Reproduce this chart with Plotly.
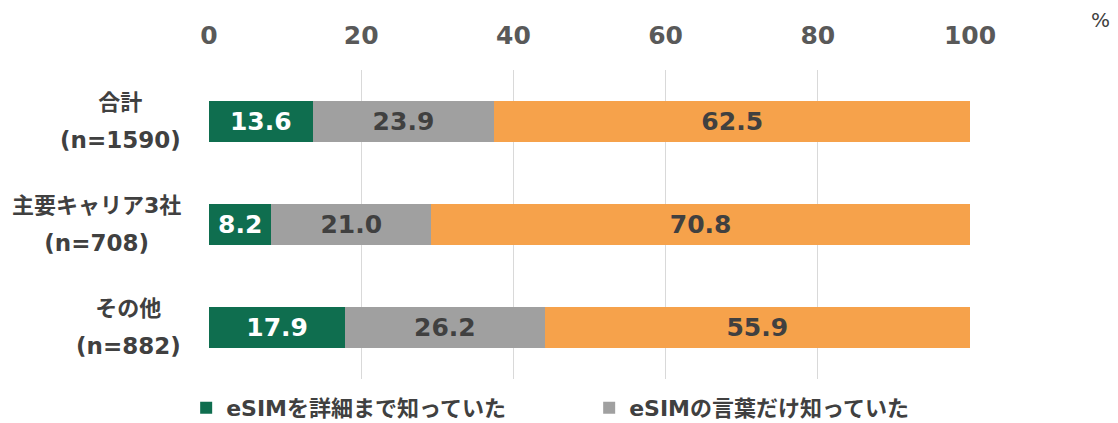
import plotly.graph_objects as go

categories = ["合計", "主要キャリア3社", "その他"]
cat_names = ["合計", "主要キャリア3社", "その他"]
cat_n = ["(n=1590)", "(n=708)", "(n=882)"]
series_names = ["eSIMを詳細まで知っていた", "eSIMの言葉だけ知っていた", "eSIMを知らなかった"]
detail = [13.6, 8.2, 17.9]
word_only = [23.9, 21.0, 26.2]
unknown = [62.5, 70.8, 55.9]
tick_vals = [0, 20, 40, 60, 80, 100]

FONT = "DejaVu Sans, Noto Sans CJK JP, sans-serif"
colors = ["#0f6e4f", "#a0a0a0", "#f6a24b"]
text_colors = ["#ffffff", "#404040", "#404040"]
show_leg = [True, True, False]

fig = go.Figure()
for name, vals, c, tc, sl in zip(series_names, [detail, word_only, unknown], colors, text_colors, show_leg):
    fig.add_trace(go.Bar(
        y=categories, x=vals, name=name, orientation="h",
        marker=dict(color=c, line=dict(width=0)),
        texttemplate="%{x:.1f}", textposition="inside", insidetextanchor="middle",
        textfont=dict(family=FONT, size=25, color=tc, weight="bold"),
        constraintext="none", showlegend=sl,
    ))

for nm, n, cat in zip(cat_names, cat_n, categories):
    lab = (f"<span style='font-size:22px'>{nm}</span><br>"
           f"<span style='font-size:23px'>{n}</span>")
    fig.add_annotation(
        x=-0.034, xref="paper", y=cat, yref="y", text=lab, showarrow=False,
        xanchor="right", yanchor="middle", align="center",
        font=dict(family=FONT, size=29, color="#404040", weight="bold"),
    )

fig.add_annotation(
    x=1.171, xref="paper", y=1.162, yref="paper", text="%", showarrow=False,
    xanchor="center", yanchor="middle",
    font=dict(family=FONT, size=20, color="#404040"),
)

fig.update_layout(
    barmode="stack", bargap=0.6,
    width=1110, height=415,
    margin=dict(l=201, r=148, t=62, b=44, autoexpand=False),
    plot_bgcolor="white", paper_bgcolor="white",
    xaxis=dict(range=[0, 100], tickvals=tick_vals, side="top", automargin=False,
               showgrid=True, gridcolor="#d9d9d9", gridwidth=1,
               zeroline=False, showline=False, ticks="", ticklabelstandoff=20,
               tickfont=dict(family=FONT, size=25, color="#595959", weight="bold")),
    yaxis=dict(autorange="reversed", showticklabels=False, showgrid=False, automargin=False,
               zeroline=False, showline=False, ticks=""),
    legend=dict(orientation="h", x=-0.03, xanchor="left",
                y=-0.094, yanchor="middle",
                traceorder="normal",
                entrywidth=358, entrywidthmode="pixels", itemwidth=30,
                font=dict(family=FONT, size=22, color="#404040", weight="bold"),
                bgcolor="rgba(0,0,0,0)"),
    showlegend=True,
)

fig.write_html("out.html")
